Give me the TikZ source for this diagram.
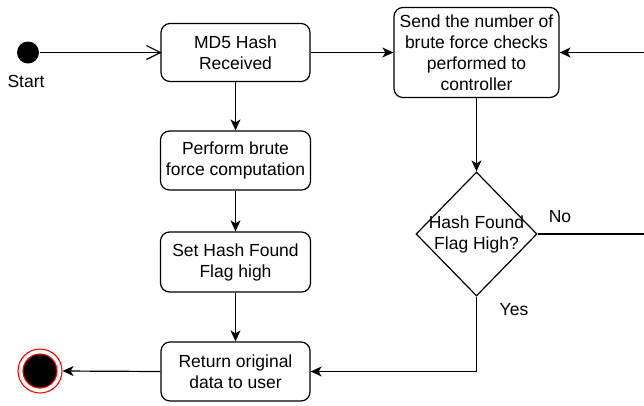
\documentclass[tikz,border=0pt]{standalone}
\usepackage{fontspec}
\setmainfont{Liberation Sans}
\usetikzlibrary{arrows.meta,shapes.geometric,calc}
\begin{document}
\begin{tikzpicture}[x=1pt,y=-1pt,
  line width=1.2pt,
  every node/.style={font=\fontsize{17.5}{21}\selectfont},
  act/.style={draw, rounded corners=9pt, align=center, inner sep=0pt},
  decision/.style={draw, diamond, align=center, inner sep=0pt},
  flow/.style={-{Stealth[length=11pt,width=10pt,inset=3pt]}}]
\useasboundingbox (0,0) rectangle (644,405);
\clip (0,0) rectangle (644,405);

% initial and final states
\node[circle, fill=black, minimum size=22pt, inner sep=0pt] (start) at (28,52.5) {};
\node (startlbl) at (26,81) {Start};
\node[circle, draw=red, line width=1.1pt, fill=white, minimum size=44pt, inner sep=0pt] (final) at (40,371) {};
\node[circle, draw=red, line width=1.1pt, fill=black, minimum size=34pt, inner sep=0pt] (finalin) at (40,371) {};

% activities
\node[act, minimum width=149pt, minimum height=58pt] (md5) at (235.5,52.5) {MD5 Hash\\Received};
\node[act, minimum width=165pt, minimum height=90pt] (send) at (476.5,52.5) {Send the number of\\brute force checks\\performed to\\controller};
\node[act, minimum width=150pt, minimum height=59pt] (perform) at (235.5,160.5) {Perform brute\\force computation};
\node[act, minimum width=150pt, minimum height=60pt] (sethash) at (235.5,262) {Set Hash Found\\Flag high};
\node[act, minimum width=149pt, minimum height=59pt] (ret) at (235.5,371.5) {Return original\\data to user};

% decision
\node[decision, minimum width=121pt, minimum height=124pt] (dec) at (476.5,234) {};
\node[align=center, inner sep=0pt] (dectxt) at (476.5,234) {Hash Found\\Flag High?};

% guard labels
\node (nolbl) at (560,217) {No};
\node (yeslbl) at (514,310) {Yes};

% loop-back corner points beyond the right edge
\coordinate (loopa) at ($(dec.east)+(130,0)$);
\coordinate (loopb) at (loopa |- send.east);
\coordinate (yescorner) at (dec.south |- ret.east);

% connectors
\draw (start) -- (md5.west);
% open barb at the end of the initial transition
\draw[line join=miter] ($(md5.west)+(-14,-7)$) -- (md5.west) -- ($(md5.west)+(-14,7)$);
\draw[flow] (md5.east) -- (send.west);
\draw[flow] (md5.south) -- (perform.north);
\draw[flow] (perform.south) -- (sethash.north);
\draw[flow] (sethash.south) -- (ret.north);
\draw[flow] (send.south) -- (dec.north);
\draw[flow] (dec.east) -- (loopa) -- (loopb) -- (send.east);
\draw[flow] (dec.south) -- (yescorner) -- (ret.east);
\draw[flow] (ret.west) -- (final.east);
\end{tikzpicture}
\end{document}
